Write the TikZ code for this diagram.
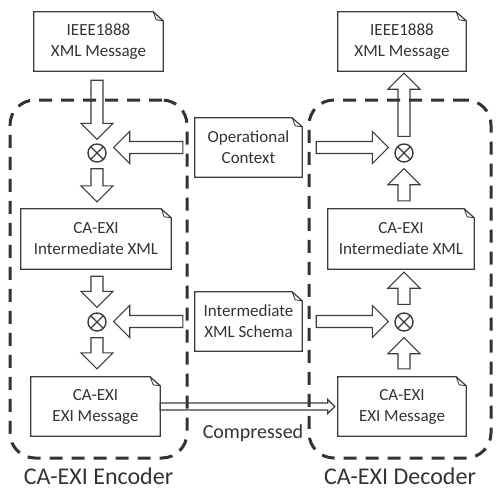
\documentclass[tikz,border=0pt]{standalone}
\usepackage{fontspec}
\setmainfont{Carlito}
\usetikzlibrary{calc,positioning}
\definecolor{textgray}{HTML}{333333}
\definecolor{linegray}{HTML}{3C3C3C}
\tikzset{blockshaft/.initial=6pt, blockhead/.initial=16pt, blocklen/.initial=16pt}

\begin{document}
\begin{tikzpicture}
[
x=1pt, y=-1pt,
doc/.style={align=center, inner sep=0pt, minimum height=59pt, text=textgray, font=\fontsize{17}{21}\selectfont},
docline/.style={draw=linegray, line width=1.2pt, line join=miter},
mix/.style={circle, draw=linegray, line width=1.4pt, minimum size=18pt, inner sep=0pt,
  path picture={\draw[linegray, line width=1.4pt]
    (path picture bounding box.north west) -- (path picture bounding box.south east)
    (path picture bounding box.north east) -- (path picture bounding box.south west);}},
group/.style={draw=textgray, line width=3pt, dash pattern=on 13pt off 9pt, rounded corners=25pt},
grouplabel/.style={inner sep=0pt, text=textgray, font=\fontsize{24}{28}\selectfont},
fat/.style={draw=linegray, line width=1.1pt, line join=miter, to path={
  let \p1=(\tikztostart), \p2=(\tikztotarget),
      \p3=($(\p2)!\pgfkeysvalueof{/tikz/blocklen}!(\p1)$) in
  ($(\p1)!\pgfkeysvalueof{/tikz/blockshaft}!90:(\p2)$)
  -- ($(\p3)!\pgfkeysvalueof{/tikz/blockshaft}!90:(\p2)$)
  -- ($(\p3)!\pgfkeysvalueof{/tikz/blockhead}!90:(\p2)$)
  -- (\p2)
  -- ($(\p3)!\pgfkeysvalueof{/tikz/blockhead}!-90:(\p2)$)
  -- ($(\p3)!\pgfkeysvalueof{/tikz/blockshaft}!-90:(\p2)$)
  -- ($(\p1)!\pgfkeysvalueof{/tikz/blockshaft}!-90:(\p2)$) -- cycle}},
thinarrow/.style={fat, blockshaft=3.5pt, blockhead=7pt, blocklen=7pt, line width=1.2pt}
]
\useasboundingbox (0,0) rectangle (496,491);

%Groups
\node[group, minimum width=177pt, minimum height=358pt] (enc) at (98.5,279) {};
\node[group, minimum width=182pt, minimum height=358pt] (dec) at (400,279) {};
\node[grouplabel, below=8pt of enc] (enclab) {CA-EXI Encoder};
\node[grouplabel, below=8pt of dec] (declab) {CA-EXI Decoder};

%Documents
\node[doc, minimum width=129pt] (ieeeL)  at (98.5,41.5)  {IEEE1888\\XML Message};
\node[doc, minimum width=128pt] (ieeeR)  at (402,41.5)   {IEEE1888\\XML Message};
\node[doc, minimum width=107pt] (opctx)  at (248.5,147.5) {Operational\\Context};
\node[doc, minimum width=107pt] (schema) at (248.5,321.5) {Intermediate\\XML Schema};
\node[doc, minimum width=150pt, minimum height=60pt] (eiL) at (96,239)  {CA-EXI\\Intermediate XML};
\node[doc, minimum width=146pt, minimum height=60pt] (eiR) at (401,239) {CA-EXI\\Intermediate XML};
\node[doc, minimum width=129pt] (exL)    at (95.5,406.5) {CA-EXI\\EXI Message};
\node[doc, minimum width=128pt] (exR)    at (402,406.5)  {CA-EXI\\EXI Message};

\foreach \n in {ieeeL,ieeeR,opctx,schema,eiL,eiR,exL,exR}{
  \draw[docline] (\n.north west) -- ([xshift=-10pt]\n.north east) -- ([yshift=-9pt]\n.north east)
    -- (\n.south east) -- (\n.south west) -- cycle;
  \draw[docline, line width=0.9pt] ([xshift=-10pt]\n.north east) -- ([xshift=-7pt,yshift=-8pt]\n.north east)
    -- ([yshift=-9pt]\n.north east);
}

%Mixers
\node[mix] (ox1) at (97,153) {};
\node[mix] (ox2) at (97,322) {};
\node[mix] (ox3) at (404,153) {};
\node[mix] (ox4) at (404,322) {};

%Encoder arrows
\draw[fat] ([yshift=-9pt]ieeeL.south -| ox1) to ([yshift=4pt]ox1.north);
\draw[fat] ([yshift=-6pt]ox1.south) to ([yshift=7pt]eiL.north -| ox1);
\draw[fat] ([xshift=-12pt]opctx.west) to ([xshift=7pt]ox1.east |- opctx.west);
\draw[fat] ([yshift=-7pt]eiL.south -| ox2) to ([yshift=5pt]ox2.north);
\draw[fat] ([yshift=-6pt]ox2.south) to ([yshift=8pt]exL.north -| ox2);
\draw[fat] ([xshift=-12pt]schema.west) to ([xshift=7pt]ox2.east |- schema.west);

%Decoder arrows
\draw[fat] ([yshift=7pt]ox3.north) to ([yshift=-2pt]ieeeR.south -| ox3);
\draw[fat] ([yshift=8pt]eiR.north -| ox3) to ([yshift=-6pt]ox3.south);
\draw[fat] ([xshift=14pt]opctx.east) to ([xshift=-6pt]ox3.west |- opctx.east);
\draw[fat] ([yshift=8pt]exR.north -| ox4) to ([yshift=-6pt]ox4.south);
\draw[fat] ([yshift=8pt]ox4.north) to ([yshift=-3pt]eiR.south -| ox4);
\draw[fat] ([xshift=14pt]schema.east) to ([xshift=-6pt]ox4.west |- schema.east);

%Compressed
\draw[thinarrow] (exL.east) to ([xshift=-3pt]exR.west);
\node[text=textgray, font=\fontsize{20}{24}\selectfont] (comp) at (253,433) {Compressed};

\end{tikzpicture}
\end{document}
